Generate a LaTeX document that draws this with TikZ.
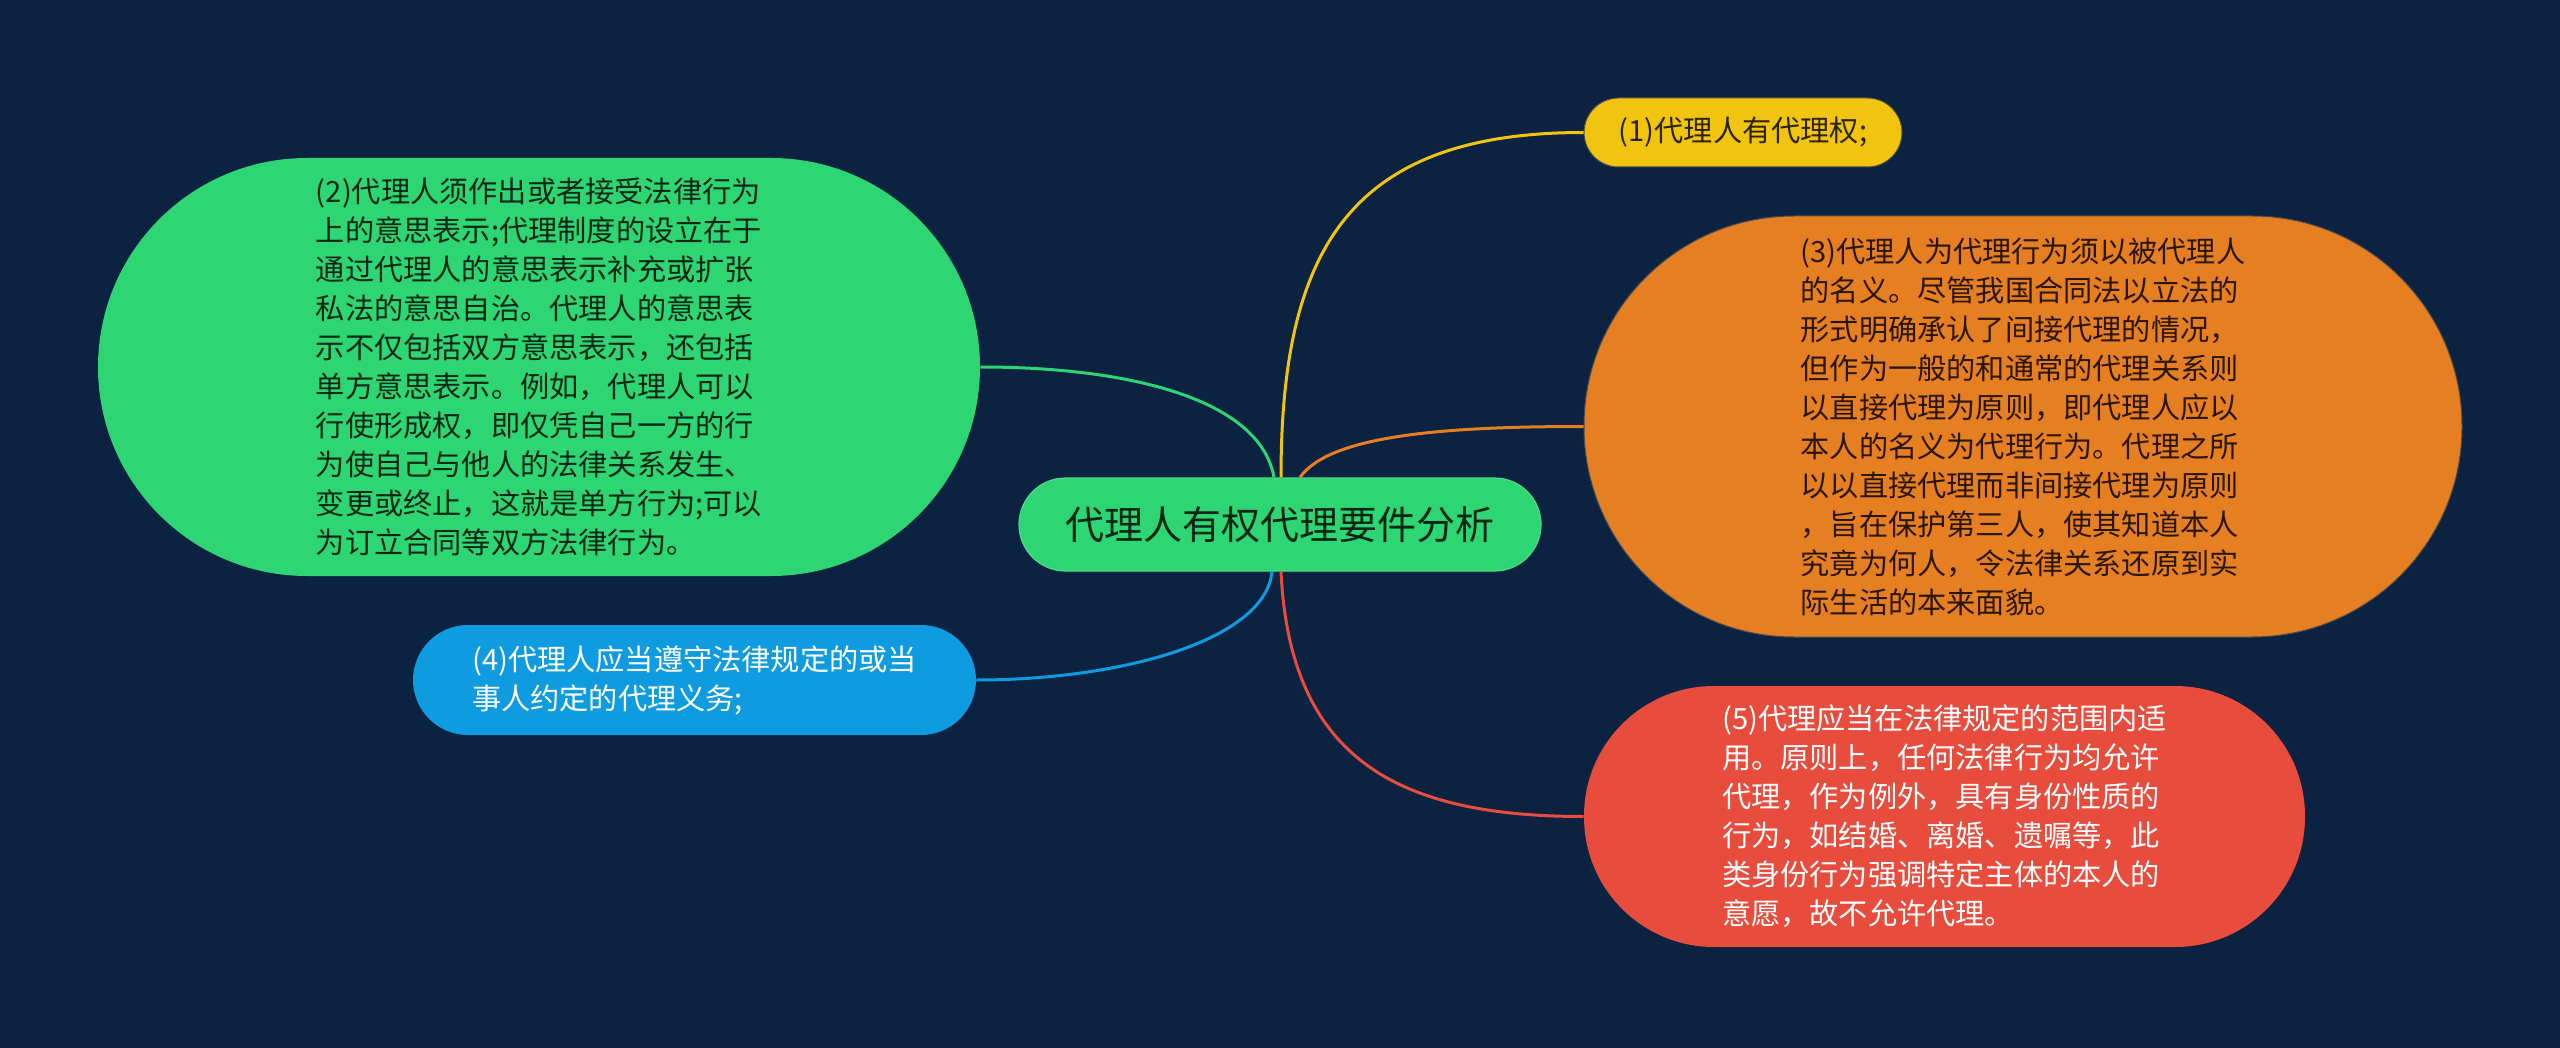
\documentclass[tikz,border=0pt]{standalone}
\usepackage{fontspec}
\newfontfamily\cjk{Noto Sans CJK SC}
\definecolor{bgc}{HTML}{0B2341}
\definecolor{cgreen}{HTML}{2ED573}
\definecolor{cyellow}{HTML}{F1C40F}
\definecolor{corange}{HTML}{E67E22}
\definecolor{cred}{HTML}{E74C3C}
\definecolor{cblue}{HTML}{0F9BDF}
\begin{document}
\begin{tikzpicture}[x=0.5pt,y=-0.5pt,
  bubble/.style={inner sep=0pt, align=left, font=\cjk\fontsize{14.6pt}{19.5pt}\selectfont},
  darkt/.style={text=black, text opacity=0.82},
  link/.style={line width=1.5pt}]
\fill[bgc] (0,0) rectangle (2560,1048);
\useasboundingbox (0,0) rectangle (2560,1048);

\node[bubble, darkt, fill=cgreen, draw=cgreen!85!white, line width=0.6pt, minimum width=261pt, minimum height=46.5pt, rounded corners=23.25pt, align=center, font=\cjk\fontsize{19.5pt}{23pt}\selectfont] (ctr) at (1280,524.5) {代理人有权代理要件分析};

\node[bubble, darkt, fill=cyellow, draw=black!70, line width=0.5pt, minimum width=159pt, minimum height=34.5pt, rounded corners=17.25pt] (n1) at (1743,132.5) {(1)代理人有代理权;};

\node[bubble, darkt, fill=corange, draw=black!70, line width=0.5pt, minimum width=439pt, minimum height=210.5pt, rounded corners=105pt] (n3) at (2023,426.5) {(3)代理人为代理行为须以被代理人\\的名义。尽管我国合同法以立法的\\形式明确承认了间接代理的情况，\\但作为一般的和通常的代理关系则\\以直接代理为原则，即代理人应以\\本人的名义为代理行为。代理之所\\以以直接代理而非间接代理为原则\\，旨在保护第三人，使其知道本人\\究竟为何人，令法律关系还原到实\\际生活的本来面貌。};

\node[bubble, text=white, fill=cred, minimum width=360.5pt, minimum height=130.5pt, rounded corners=65pt] (n5) at (1944.5,816.5) {(5)代理应当在法律规定的范围内适\\用。原则上，任何法律行为均允许\\代理，作为例外，具有身份性质的\\行为，如结婚、离婚、遗嘱等，此\\类身份行为强调特定主体的本人的\\意愿，故不允许代理。};

\node[bubble, darkt, fill=cgreen, minimum width=441pt, minimum height=209pt, rounded corners=104.5pt] (n2) at (539,367) {(2)代理人须作出或者接受法律行为\\上的意思表示;代理制度的设立在于\\通过代理人的意思表示补充或扩张\\私法的意思自治。代理人的意思表\\示不仅包括双方意思表示，还包括\\单方意思表示。例如，代理人可以\\行使形成权，即仅凭自己一方的行\\为使自己与他人的法律关系发生、\\变更或终止，这就是单方行为;可以\\为订立合同等双方法律行为。};

\node[bubble, text=white, fill=cblue, minimum width=281.5pt, minimum height=55pt, rounded corners=27.5pt] (n4) at (694.5,680) {(4)代理人应当遵守法律规定的或当\\事人约定的代理义务;};

\draw[link, cyellow] ([xshift=0.5pt]ctr.north) .. controls +(0,-228) and +(-234,0) .. (n1.west);
\draw[link, cgreen] ([xshift=-3pt]ctr.north) .. controls +(-14,-78) and +(150,0) .. (n2.east);
\draw[link, corange] ([xshift=10pt]ctr.north) .. controls +(30,-43) and +(-134,0) .. (n3.west);
\draw[link, cblue] ([xshift=-4pt]ctr.south) .. controls +(-7,69) and +(144,0) .. (n4.east);
\draw[link, cred] ([xshift=0.5pt]ctr.south) .. controls +(9,189) and +(-184,0) .. (n5.west);
\end{tikzpicture}
\end{document}
